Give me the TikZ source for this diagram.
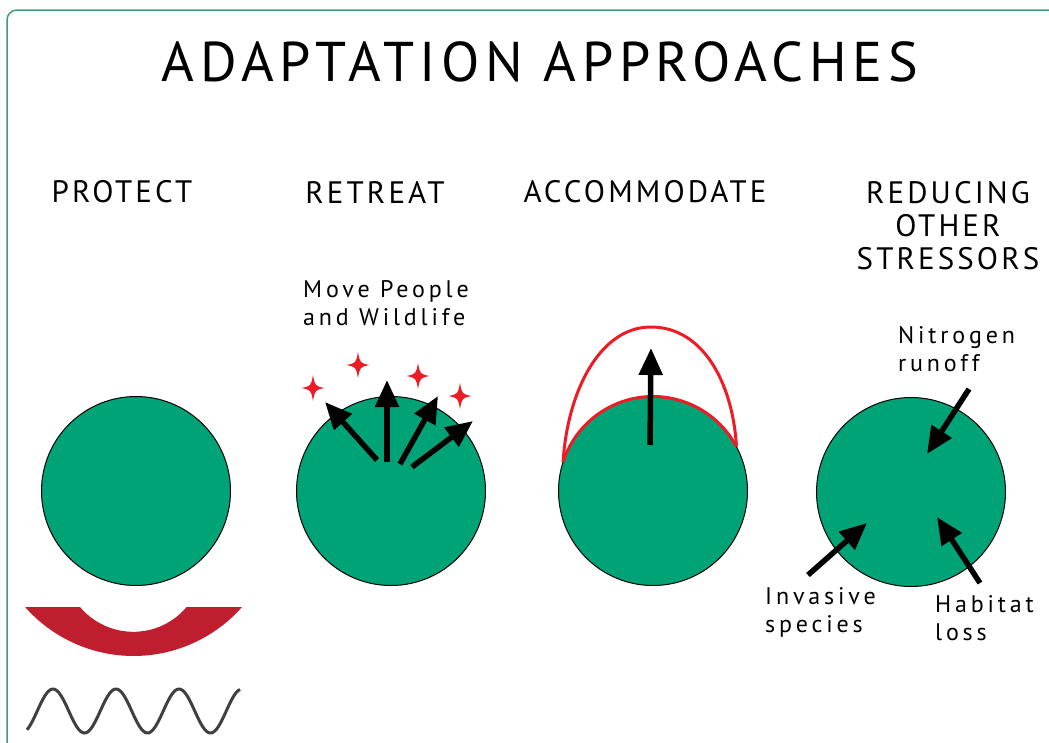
\documentclass[tikz,border=0pt]{standalone}
\usepackage{fontspec}
\setmainfont{PT Sans}
\usetikzlibrary{positioning,arrows.meta}
\newfontfamily\wide[LetterSpace=10]{PT Sans}
\newfontfamily\airy[LetterSpace=10]{PT Sans}
\newfontfamily\tight[LetterSpace=16]{PT Sans}
\definecolor{leaf}{RGB}{0,163,117}
\definecolor{brick}{RGB}{190,30,45}
\definecolor{flare}{RGB}{237,28,36}
\definecolor{rim}{RGB}{65,155,115}
\definecolor{swell}{RGB}{64,64,64}
\newcommand*{\sparkle}[1]{%
  \begin{scope}[shift={(#1)}]
    \fill[flare] (0,-13) .. controls (2,-2) .. (11.5,0) .. controls (2,2) .. (0,13)
      .. controls (-2,2) .. (-11.5,0) .. controls (-2,-2) .. cycle;
  \end{scope}}

\begin{document}
\begin{tikzpicture}[x=1pt,y=-1pt,
  disc/.style={circle,draw=black,line width=1pt,fill=leaf,
               minimum size=189pt,inner sep=0pt,outer sep=0pt},
  push/.style={line width=5.5pt,-{Triangle[width=23pt,length=27pt]}},
  heading/.style={font=\airy\fontsize{31}{33}\selectfont,inner sep=0pt,align=center},
  note/.style={font=\tight\fontsize{24}{28}\selectfont,inner sep=0pt,align=left,anchor=west}]
\useasboundingbox (0,0) rectangle (1049,742);
% Frame, cut off at the right and the bottom
\draw[rim,line width=1.5pt] (7,760) -- (7,20) arc[start angle=180,end angle=270,radius=10] -- (1070,10);
% Title
\node[font=\wide\fontsize{56}{60}\selectfont,inner sep=0pt] (title) at (540,62) {ADAPTATION APPROACHES};
% Column headings
\node[heading] (hprotect) at (122,192) {PROTECT};
\node[heading] (hretreat) at (375,192) {RETREAT};
\node[heading] (haccom) at (645,192) {ACCOMMODATE};
\node[heading] (hreduce) at (948,226) {REDUCING\\OTHER\\STRESSORS};
% The four coasts
\node[disc] (protect) at (136,491) {};
\node[disc] (retreat) at (391,491) {};
\node[disc] (accom) at (653,491) {};
\node[disc] (reduce) at (911,492) {};
% Protect: sea wall and waves
\fill[brick] (25,607) -- (80,607) arc[start angle=139.9,end angle=40.1,radius=69.7]
  -- (242,607) arc[start angle=41.4,end angle=138.6,radius=144.6] -- cycle;
\draw[swell,line width=3pt] plot[domain=27:240,samples=120,smooth] (\x,{711-22*cos(5.714*(\x-53))});
% Retreat: move inland
\node[note] (move) at (303,303) {Move People\\and Wildlife};
\sparkle{313,388}
\sparkle{358,365}
\sparkle{418,376}
\sparkle{460,396}
\coordinate (r1) at (377,460);
\coordinate (r2) at (387,462);
\coordinate (r3) at (400,464);
\coordinate (r4) at (412,467);
\coordinate (t1) at (325,402);
\coordinate (t2) at (387,380);
\coordinate (t3) at (438,396);
\coordinate (t4) at (473,421);
\draw[push] (r1) -- (t1);
\draw[push] (r2) -- (t2);
\draw[push] (r3) -- (t3);
\draw[push] (r4) -- (t4);
% Accommodate: raised ground
\draw[flare,line width=3pt] (accom.162) .. controls (567,395) and (598,327) .. (651,327)
  .. controls (704,327) and (733,385) .. (accom.28);
\draw[flare,line width=3pt] (accom.162) arc[start angle=198,end angle=332,radius=94.5];
\coordinate (a1) at (650,445);
\coordinate (a2) at (651,348);
\draw[push] (a1) -- (a2);
% Reducing other stressors
\node[note] (nitro) at (898,349) {Nitrogen\\runoff};
\node[note] (invasive) at (765,612) {Invasive\\species};
\node[note] (habitat) at (935,618) {Habitat\\loss};
\coordinate (n1) at (969,389);
\coordinate (n2) at (927,454);
\coordinate (i1) at (808,575);
\coordinate (i2) at (867,523);
\coordinate (h1) at (980,583);
\coordinate (h2) at (937,517);
\draw[push] (n1) -- (n2);
\draw[push] (i1) -- (i2);
\draw[push] (h1) -- (h2);
\end{tikzpicture}
\end{document}
